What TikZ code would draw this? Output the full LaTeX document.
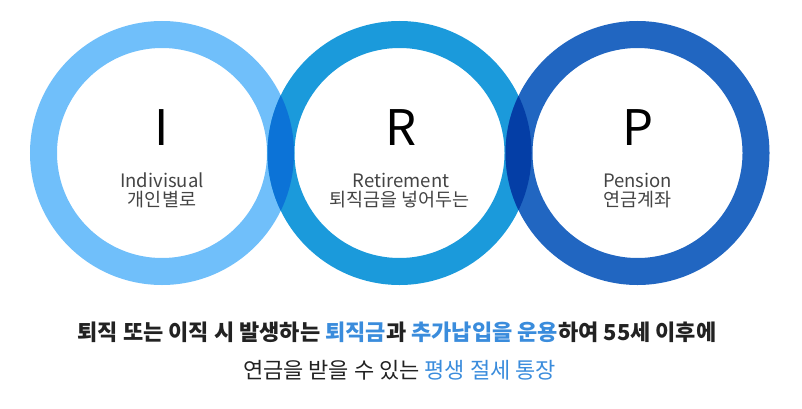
\documentclass[tikz,border=0pt]{standalone}
\usepackage{fontspec}
\setmainfont{Noto Sans CJK KR}
\definecolor{ringA}{RGB}{112,191,250}
\definecolor{ringB}{RGB}{27,154,219}
\definecolor{ringC}{RGB}{33,102,193}
\definecolor{ovAB}{RGB}{12,115,215}
\definecolor{ovBC}{RGB}{4,62,166}
\definecolor{labgray}{RGB}{68,68,68}
\definecolor{txtdark}{RGB}{34,34,34}
\definecolor{txtblue}{RGB}{58,140,220}
\begin{document}
\begin{tikzpicture}[x=1pt,y=1pt,
  ring/.style={line width=27pt},
  bigletter/.style={anchor=base, font=\fontsize{49}{50}\selectfont, text=black, inner sep=0pt},
  enlabel/.style={anchor=base, font=\fontsize{18.5}{20}\selectfont, text=labgray, inner sep=0pt},
  krlabel/.style={anchor=base, font=\fontsize{18.5}{20}\selectfont, text=labgray, inner sep=0pt},
  caption/.style={anchor=base, font=\fontsize{22}{24}\selectfont, text=txtdark, inner sep=0pt}]
\useasboundingbox (0,0) rectangle (802,408);
\coordinate (c1) at (162,255);
\coordinate (c2) at (399.5,255);
\coordinate (c3) at (637.5,255);
% rings
\draw[ring, ringA] (c1) circle (118.5);
\draw[ring, ringB] (c2) circle (118.5);
\draw[ring, ringC] (c3) circle (118.5);
% overlaps
\begin{scope}[even odd rule]
  \clip (c1) circle (132) (c1) circle (105);
  \draw[ring, ovAB] (c2) circle (118.5);
\end{scope}
\begin{scope}[even odd rule]
  \clip (c2) circle (132) (c2) circle (105);
  \draw[ring, ovBC] (c3) circle (118.5);
\end{scope}
% letters
\node[bigletter] (lI) at (162,263) {I};
\node[bigletter] (lR) at (401,263) {R};
\node[bigletter] (lP) at (637.5,263) {P};
% labels
\node[enlabel] (eI) at (162,221) {Indivisual};
\node[krlabel] (kI) at (162,202) {개인별로};
\node[enlabel] (eR) at (401,221) {Retirement};
\node[krlabel] (kR) at (399.5,202) {퇴직금을 넣어두는};
\node[enlabel] (eP) at (637.5,221) {Pension};
\node[krlabel] (kP) at (637.5,202) {연금계좌};
% caption
\node[caption] (cap1) at (397,68) {\bfseries 퇴직 또는 이직 시 발생하는 \textcolor{txtblue}{퇴직금}과 \textcolor{txtblue}{추가납입을 운용}하여 55세 이후에};
\node[caption] (cap2) at (399.5,30) {연금을 받을 수 있는 \textcolor{txtblue}{평생 절세 통장}};
\end{tikzpicture}
\end{document}
